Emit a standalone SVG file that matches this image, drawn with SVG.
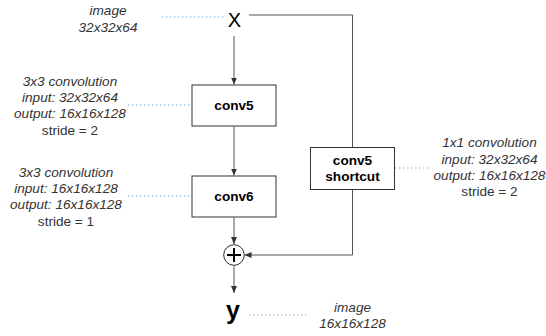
<svg xmlns="http://www.w3.org/2000/svg" width="546" height="336" viewBox="0 0 546 336">
<style>
.lbl{font-family:"Liberation Sans",Arial,sans-serif;font-size:13.6px;fill:#333;text-anchor:middle}
.it{font-style:italic}
.box{fill:#fff;stroke:#333;stroke-width:1}
.bt{font-family:"Liberation Sans",Arial,sans-serif;font-size:13.6px;font-weight:bold;fill:#000;text-anchor:middle}
.edge{fill:none;stroke:#555;stroke-width:1}
.dot{fill:none;stroke:#99c4f0;stroke-width:1.3;stroke-dasharray:1.3 2.7}
</style>
<defs>
<marker id="arr" markerUnits="userSpaceOnUse" markerWidth="8" markerHeight="8" viewBox="0 0 8 8" refX="7" refY="4" orient="auto">
<path d="M0,1 L7,4 L0,7 z" fill="#333"/>
</marker>
</defs>
<g id="connectors">
<path class="edge" d="M234,36 V84.5" marker-end="url(#arr)"/>
<path class="edge" d="M234,126.5 V175.5" marker-end="url(#arr)"/>
<path class="edge" d="M234,217.5 V244" marker-end="url(#arr)"/>
<path class="edge" d="M249,15 H352.5 V255 H244.5" marker-end="url(#arr)"/>
<path class="edge" d="M234,265.5 V293" marker-end="url(#arr)"/>
<path class="dot" d="M162,17 H224"/>
<path class="dot" d="M128,105 H192"/>
<path class="dot" d="M128,196 H192"/>
<path class="dot" d="M395,168 H431"/>
<path class="dot" d="M249,315 H309"/>
</g>
<g id="x">
<text x="234.5" y="27" style="font-family:'Liberation Sans',Arial,sans-serif;font-size:20px;fill:#000;text-anchor:middle">X</text>
</g>
<g id="x-label">
<text class="lbl it" x="108" y="15.3">image</text>
<text class="lbl it" x="108" y="31.6">32x32x64</text>
</g>
<g id="conv5">
<rect class="box" x="192" y="85" width="84" height="41"/>
<text class="bt" x="234" y="110.3">conv5</text>
</g>
<g id="conv5-label">
<text class="lbl it" x="70" y="85.7">3x3 convolution</text>
<text class="lbl it" x="70" y="102">input: 32x32x64</text>
<text class="lbl it" x="70" y="118.3">output: 16x16x128</text>
<text class="lbl" x="70" y="134.6">stride = 2</text>
</g>
<g id="conv6">
<rect class="box" x="192" y="176" width="84" height="41"/>
<text class="bt" x="234" y="201.3">conv6</text>
</g>
<g id="conv6-label">
<text class="lbl it" x="66" y="176.8">3x3 convolution</text>
<text class="lbl it" x="66" y="193.1">input: 16x16x128</text>
<text class="lbl it" x="66" y="209.4">output: 16x16x128</text>
<text class="lbl" x="66" y="225.7">stride = 1</text>
</g>
<g id="shortcut">
<rect class="box" x="310.5" y="147.5" width="84" height="42"/>
<text class="bt" x="352.5" y="164.8">conv5</text>
<text class="bt" x="352.5" y="181.1">shortcut</text>
</g>
<g id="shortcut-label">
<text class="lbl it" x="489.5" y="147.3">1x1 convolution</text>
<text class="lbl it" x="489.5" y="163.6">input: 32x32x64</text>
<text class="lbl it" x="489.5" y="179.9">output: 16x16x128</text>
<text class="lbl" x="489.5" y="196.2">stride = 2</text>
</g>
<g id="plus">
<circle cx="234" cy="255" r="10.3" fill="#fff" stroke="#333" stroke-width="1"/>
<path d="M234,248 V262 M227,255 H241" stroke="#000" stroke-width="2" fill="none"/>
</g>
<g id="y">
<text x="233" y="318.7" style="font-family:'Liberation Sans',Arial,sans-serif;font-size:25px;font-weight:bold;fill:#000;text-anchor:middle">y</text>
</g>
<g id="y-label">
<text class="lbl it" x="352.5" y="311.7">image</text>
<text class="lbl it" x="352.5" y="328">16x16x128</text>
</g>
</svg>
